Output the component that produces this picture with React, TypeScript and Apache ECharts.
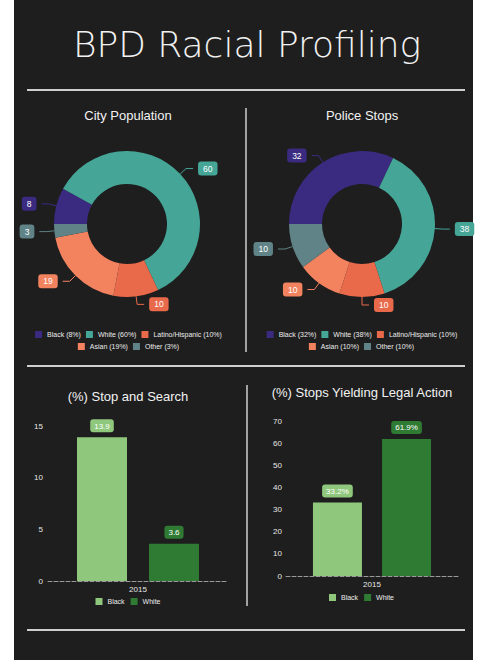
import React, { useEffect, useRef } from 'react';
import * as echarts from 'echarts';

const W = 478;
const H = 660;

// ---- data ----
const raceNames = ['Black', 'White', 'Latino/Hispanic', 'Asian', 'Other'];
const raceColors = ['#3a2a80', '#45a597', '#e9694b', '#f3825f', '#5f8386'];
const populationValues = [8, 60, 10, 19, 3];
const stopValues = [32, 38, 10, 10, 10];

const barYears = ['2015'];
const barSeriesNames = ['Black', 'White'];
const barColors = ['#8fc87d', '#2f7b34'];
const stopSearchValues = [13.9, 3.6];
const legalActionValues = [33.2, 61.9];

const titleMain = 'BPD Racial Profiling';
const titlePop = 'City Population';
const titleStops = 'Police Stops';
const titleSearch = '(%) Stop and Search';
const titleLegal = '(%) Stops Yielding Legal Action';

const FONT = '"Liberation Sans", Arial, sans-serif';
const BG = '#1e1e1e';
const LINE = '#cfcfcf';

function measure(text: string, size: number) {
  const c = document.createElement('canvas').getContext('2d')!;
  c.font = `${size}px "Liberation Sans", Arial, sans-serif`;
  return c.measureText(text).width;
}

function legendLeft(center: number, labels: string[], size: number, itemW: number, gap: number) {
  const total =
    labels.reduce((s, t) => s + itemW + 5 + measure(t, size), 0) + gap * (labels.length - 1);
  return center - total / 2;
}

export default function App() {
  const ref = useRef<HTMLDivElement>(null);

  useEffect(() => {
    document.body.style.margin = '0';
    const chart = echarts.init(ref.current!, null, { renderer: 'svg' });

    const popNames = raceNames.map((n, i) => `${n} (${populationValues[i]}%)`);
    const stopNames = raceNames.map((n, i) => `${n} (${stopValues[i]}%)`);

    const pieData = (names: string[], values: number[]) =>
      values.map((v, i) => ({
        name: names[i],
        value: v,
        itemStyle: { color: raceColors[i] },
        label: { backgroundColor: raceColors[i] },
      }));

    const pieSeries = (names: string[], values: number[], cx: number) => ({
      type: 'pie',
      center: [cx, 224],
      radius: [40, 73],
      startAngle: 180,
      clockwise: true,
      avoidLabelOverlap: false,
      data: pieData(names, values),
      label: {
        show: true,
        position: 'outside',
        formatter: '{c}',
        color: '#ffffff',
        fontSize: 8.5,
        fontFamily: FONT,
        padding: [3, 5, 2, 5],
        borderRadius: 3,
      },
      labelLine: { show: true, length: 8, length2: 7, lineStyle: { width: 1 } },
    });

    const pieLegend = (names: string[], center: number, top: number) => ({
      data: names,
      left: legendLeft(center, names, 7, 7, 5),
      top,
      padding: 0,
      itemWidth: 7,
      itemHeight: 7,
      itemGap: 5,
      icon: 'rect',
      selectedMode: false,
      textStyle: { color: '#ececec', fontSize: 7, fontFamily: FONT },
    });

    const barLegend = (center: number, top: number) => ({
      data: barSeriesNames,
      left: legendLeft(center, barSeriesNames, 7, 7, 6),
      top,
      padding: 0,
      itemWidth: 7,
      itemHeight: 7,
      itemGap: 6,
      icon: 'rect',
      selectedMode: false,
      textStyle: { color: '#ececec', fontSize: 7, fontFamily: FONT },
    });

    const xAxis = (gridIndex: number) => ({
      type: 'category',
      gridIndex,
      data: barYears,
      axisLine: { lineStyle: { color: '#9a9a9a', type: 'dashed', width: 1 } },
      axisTick: { show: false },
      axisLabel: { color: '#e6e6e6', fontSize: 8, fontFamily: FONT, margin: 4 },
    });

    const yAxis = (gridIndex: number, max: number, interval: number, margin: number) => ({
      type: 'value',
      gridIndex,
      min: 0,
      max,
      interval,
      splitLine: { show: false },
      axisLine: { show: false },
      axisTick: { show: false },
      axisLabel: { color: '#e6e6e6', fontSize: 8, fontFamily: FONT, margin },
    });

    const barSeries = (
      values: number[],
      axisIndex: number,
      width: number,
      gap: string,
      suffix: string
    ) =>
      values.map((v, i) => ({
        type: 'bar',
        name: barSeriesNames[i],
        xAxisIndex: axisIndex,
        yAxisIndex: axisIndex,
        data: [v],
        barWidth: width,
        barGap: gap,
        itemStyle: { color: barColors[i] },
        label: {
          show: true,
          position: 'top',
          distance: 5,
          formatter: `{c}${suffix}`,
          color: '#ffffff',
          fontSize: 8,
          fontFamily: FONT,
          backgroundColor: barColors[i],
          padding: [3, 4, 2, 4],
          borderRadius: 3,
        },
      }));

    const hLine = (y: number) => ({
      type: 'line',
      shape: { x1: 27, y1: y, x2: 465, y2: y },
      style: { stroke: LINE, lineWidth: 2 },
      silent: true,
    });
    const vLine = (x: number, y1: number, y2: number) => ({
      type: 'line',
      shape: { x1: x, y1, x2: x, y2 },
      style: { stroke: LINE, lineWidth: 1.5 },
      silent: true,
    });
    const titleText = (text: string, x: number, y: number, size: number, family = FONT, weight: any = 'normal') => ({
      type: 'text',
      x,
      y,
      silent: true,
      style: {
        text,
        fill: '#f2f2f2',
        fontSize: size,
        fontFamily: family,
        fontWeight: weight,
        align: 'center',
        verticalAlign: 'middle',
      },
    });

    const option: any = {
      animation: false,
      backgroundColor: '#ffffff',
      graphic: [
        { type: 'rect', shape: { x: 14, y: 0, width: 459, height: H }, style: { fill: BG }, z: -10, silent: true },
        hLine(90),
        hLine(366),
        hLine(630),
        vLine(246, 108, 352),
        vLine(247, 385, 606),
        titleText(titleMain, 247, 44, 36, '"DejaVu Sans", sans-serif', 200),
        titleText(titlePop, 128, 115, 13),
        titleText(titleStops, 362, 115, 13),
        titleText(titleSearch, 128, 396, 13),
        titleText(titleLegal, 362, 392, 13),
      ],
      legend: [
        pieLegend(popNames.slice(0, 3), 128.5, 331),
        pieLegend(popNames.slice(3), 128.5, 343),
        pieLegend(stopNames.slice(0, 3), 362, 331),
        pieLegend(stopNames.slice(3), 361.5, 343),
        barLegend(128, 598),
        barLegend(361.5, 594),
      ],
      grid: [
        { left: 48, right: W - 228, top: 426, bottom: H - 581 },
        { left: 286, right: W - 458, top: 421, bottom: H - 576 },
      ],
      xAxis: [xAxis(0), xAxis(1)],
      yAxis: [yAxis(0, 15, 5, 5), yAxis(1, 70, 10, 4)],
      series: [
        pieSeries(popNames, populationValues, 127),
        pieSeries(stopNames, stopValues, 362),
        ...barSeries(stopSearchValues, 0, 50, '44%', ''),
        ...barSeries(legalActionValues, 1, 49, '41%', '%'),
      ],
    };

    chart.setOption(option);
    return () => chart.dispose();
  }, []);

  return <div ref={ref} style={{ width: W, height: H }} />;
}
